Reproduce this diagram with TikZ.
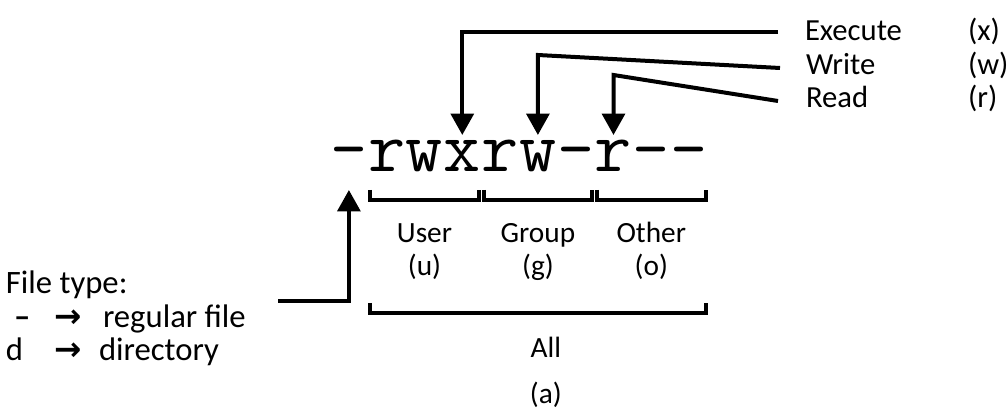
\documentclass[tikz,border=0pt]{standalone}
\usepackage{fontspec}
\setmainfont{Carlito}
\newfontfamily\symfont{DejaVu Sans}
\usetikzlibrary{math, calc, arrows.meta}

\begin{document}
\begin{tikzpicture}[x=0.75pt, y=-0.75pt, line width=3pt,
    arr/.style={-{Triangle[length=16pt, width=17pt]}},
    lbl/.style={inner sep=0pt, anchor=base, font=\fontsize{22}{26}\selectfont},
    side/.style={lbl, anchor=base west, font=\fontsize{23}{27}\selectfont},
    ftext/.style={lbl, anchor=base west, font=\fontsize{24.5}{28}\selectfont},
    perm/.style={inner sep=0pt, anchor=base, font=\ttfamily\fontsize{54}{60}\selectfont\addfontfeatures{FakeBold=4}}]
    \tikzmath{
        \permleft=330;
        \charw=37.8;
        \permbase=172;
        \tipy=135;
        \inset=3;
    }
    \useasboundingbox (0, 0) rectangle (1008, 420);

    % permission string
    \foreach \ch [count=\i from 0] in {-,r,w,x,r,w,-,r,-,-}
        \node [perm] (c\i) at (\permleft+\charw*\i+\charw/2, \permbase) {\ch};
    \coordinate (tip) at (0, \tipy);

    % permission labels
    \node [side] (exe) at (803, 41) {Execute};
    \node [side] (exe-key) at (966, 41) {(x)};
    \node [side] (wrt) at (804, 75) {Write};
    \node [side] (wrt-key) at (966, 75) {(w)};
    \node [side] (rd) at (804, 108) {Read};
    \node [side] (rd-key) at (966, 108) {(r)};

    \coordinate (exe-end) at (778, 32);
    \coordinate (wrt-end) at (780, 68);
    \coordinate (rd-end) at (778, 101);
    \draw [arr] (exe-end) -- (exe-end -| c3) -- (c3 |- tip);
    \draw [arr] (wrt-end) -- (c5 |- 0,55) -- (c5 |- tip);
    \draw [arr] (rd-end) -- (c7 |- 0,75) -- (c7 |- tip);

    % user / group / other
    \foreach \a/\b/\who/\abbr in {1/3/User/u, 4/6/Group/g, 7/9/Other/o} {
        \coordinate (\abbr-mid) at ($(c\a.west)!0.5!(c\b.east)$);
        \draw ([xshift=\inset pt]c\a.west |- 0,190) -- ([xshift=\inset pt]c\a.west |- 0,200)
            -- ([xshift=-\inset pt]c\b.east |- 0,200) -- ([xshift=-\inset pt]c\b.east |- 0,190);
        \node [lbl] (\abbr) at (\abbr-mid |- 0,243) {\who};
        \node [lbl] (\abbr-key) at (\abbr-mid |- 0,276) {(\abbr)};
    }

    % all
    \coordinate (all-mid) at ($(c1.west)!0.5!(c9.east)$);
    \draw ([xshift=\inset pt]c1.west |- 0,303) -- ([xshift=\inset pt]c1.west |- 0,313)
        -- ([xshift=-\inset pt]c9.east |- 0,313) -- ([xshift=-\inset pt]c9.east |- 0,303);
    \node [lbl, xshift=6pt] (all) at (all-mid |- 0,358) {All};
    \node [lbl, xshift=6pt] (all-key) at (all-mid |- 0,404) {(a)};

    % file type
    \node [ftext] (ftype) at (4, 294) {File type:};
    \node [ftext] (reg-sym) at (12, 328) {\bfseries –};
    \node [ftext] (reg-arr) at (52, 328) {\symfont\bfseries →};
    \node [ftext] (reg) at (101, 328) {regular file};
    \node [ftext] (dir-sym) at (4, 361) {d};
    \node [ftext] (dir-arr) at (52, 361) {\symfont\bfseries →};
    \node [ftext] (dir) at (97, 361) {directory};

    \coordinate (ftype-end) at (278, 301);
    \draw [arr] (ftype-end) -- (ftype-end -| c0) -- (c0 |- 0,190);
\end{tikzpicture}
\end{document}
